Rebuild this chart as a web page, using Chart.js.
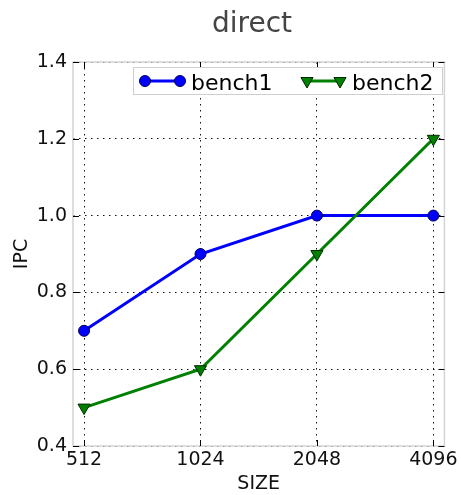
<!DOCTYPE html>
<html>
<head>
<meta charset="utf-8">
<title>direct</title>
<script src="https://cdn.jsdelivr.net/npm/chart.js@4"></script>
<style>
  html, body { margin: 0; padding: 0; background: #fff; }
  #wrap { width: 461px; height: 495px; position: relative; }
</style>
</head>
<body>
<div id="wrap"><canvas id="chart"></canvas></div>
<script>
// direct — IPC vs SIZE for two benchmarks.

const chartTitle = 'direct';
const sizes = ['512', '1024', '2048', '4096'];
const bench1 = [0.7, 0.9, 1.0, 1.0];
const bench2 = [0.5, 0.6, 0.9, 1.2];
const yTicks = [0.4, 0.6, 0.8, 1.0, 1.2, 1.4];

const FONT = "'DejaVu Sans', sans-serif";
const toPts = arr => arr.map((y, i) => ({ x: i, y }));

// ─── Marker drawing (shared by legend) ──────────────────────────────────

function marker(ctx, ds, x, y) {
  ctx.save();
  ctx.fillStyle = ds.pointBackgroundColor;
  ctx.strokeStyle = ds.pointBorderColor;
  ctx.lineWidth = ds.pointBorderWidth;
  ctx.beginPath();
  if (ds.pointStyle === 'circle') {
    ctx.arc(x, y, ds.pointRadius, 0, Math.PI * 2);
  } else {
    const r = ds.pointRadius;
    const s = Math.sin(Math.PI / 3) * r, c = Math.cos(Math.PI / 3) * r;
    ctx.moveTo(x, y + r);
    ctx.lineTo(x - s, y - c);
    ctx.lineTo(x + s, y - c);
    ctx.closePath();
  }
  ctx.fill();
  ctx.stroke();
  ctx.restore();
}

// ─── Frame, inward ticks, title, legend ─────────────────────────────────

const framePlugin = {
  id: 'frame',
  beforeDatasetsDraw(chart) {
    const { ctx, chartArea: a, scales } = chart;
    ctx.save();
    ctx.strokeStyle = '#d4d4d4';
    ctx.lineWidth = 1.5;
    ctx.strokeRect(a.left, a.top, a.right - a.left, a.bottom - a.top);
    ctx.strokeStyle = '#000';
    ctx.lineWidth = 1;
    ctx.beginPath();
    yTicks.forEach(v => {
      const py = Math.round(scales.y.getPixelForValue(v)) + 0.5;
      ctx.moveTo(a.left, py); ctx.lineTo(a.left + 6, py);
      ctx.moveTo(a.right, py); ctx.lineTo(a.right - 6, py);
    });
    sizes.forEach((_, i) => {
      const px = Math.round(scales.x.getPixelForValue(i)) + 0.5;
      ctx.moveTo(px, a.bottom); ctx.lineTo(px, a.bottom - 6);
      ctx.moveTo(px, a.top); ctx.lineTo(px, a.top + 6);
    });
    ctx.stroke();
    ctx.restore();
  },
  afterDraw(chart) {
    const { ctx } = chart;
    const dss = chart.data.datasets;
    ctx.save();
    // title (matplotlib puts it slightly left of the axes centre here)
    ctx.fillStyle = '#444';
    ctx.font = `28px ${FONT}`;
    ctx.textAlign = 'center';
    ctx.textBaseline = 'alphabetic';
    ctx.fillText(chartTitle, 252, 32);
    // legend box, top right inside the axes
    ctx.fillStyle = '#fff';
    ctx.strokeStyle = '#cfcfcf';
    ctx.lineWidth = 1;
    ctx.fillRect(133.5, 67.5, 309, 27);
    ctx.strokeRect(133.5, 67.5, 309, 27);
    const items = [{ x0: 145, x1: 180, tx: 191 }, { x0: 307, x1: 340, tx: 352 }];
    const ly = 81;
    items.forEach((it, i) => {
      const ds = dss[i];
      ctx.strokeStyle = ds.borderColor;
      ctx.lineWidth = ds.borderWidth;
      ctx.beginPath();
      ctx.moveTo(it.x0, ly); ctx.lineTo(it.x1, ly);
      ctx.stroke();
      marker(ctx, ds, it.x0, ly);
      marker(ctx, ds, it.x1, ly);
      ctx.fillStyle = '#000';
      ctx.font = `22px ${FONT}`;
      ctx.textAlign = 'left';
      ctx.fillText(ds.label, it.tx, 90);
    });
    ctx.restore();
  },
};

// ─── Chart ──────────────────────────────────────────────────────────────

Chart.defaults.font.family = FONT;
Chart.defaults.color = '#000';

new Chart(document.getElementById('chart'), {
  type: 'line',
  data: {
    datasets: [
      {
        label: 'bench1', data: toPts(bench1), order: 1,
        borderColor: '#0000ff', borderWidth: 3,
        pointStyle: 'circle', pointRadius: 5.5, pointBorderWidth: 1,
        pointBackgroundColor: '#0000ff', pointBorderColor: '#00005a',
      },
      {
        label: 'bench2', data: toPts(bench2), order: 0,
        borderColor: '#008000', borderWidth: 3,
        pointStyle: 'triangle', pointRotation: 180, pointRadius: 7, pointBorderWidth: 1,
        pointBackgroundColor: '#008000', pointBorderColor: '#002a00',
      },
    ],
  },
  options: {
    responsive: true,
    maintainAspectRatio: false,
    animation: false,
    clip: false,
    layout: { padding: { left: 0, right: 16, top: 62, bottom: 0 } },
    plugins: {
      legend: { display: false },
      tooltip: { enabled: false },
      title: { display: false },
    },
    scales: {
      x: {
        type: 'linear', min: -0.095, max: 3.095,
        afterBuildTicks: s => { s.ticks = sizes.map((_, i) => ({ value: i })); },
        afterFit: s => { s.height = 49; },
        ticks: { callback: v => sizes[v], font: { size: 19 }, padding: 3, color: '#111', maxRotation: 0 },
        grid: { color: '#111', lineWidth: 1, drawTicks: false },
        border: { display: false, dash: [1.5, 4.5] },
        title: { display: true, text: 'SIZE', font: { size: 19 }, color: '#111', padding: { top: 0, bottom: 0 } },
      },
      y: {
        min: 0.4, max: 1.4,
        afterBuildTicks: s => { s.ticks = yTicks.map(v => ({ value: v })); },
        afterFit: s => { s.width = 73; },
        ticks: { callback: v => v.toFixed(1), font: { size: 19 }, padding: 6, color: '#111' },
        grid: { color: '#111', lineWidth: 1, drawTicks: false },
        border: { display: false, dash: [1.5, 4.5] },
        title: { display: true, text: 'IPC', font: { size: 19 }, color: '#111', padding: { top: 11, bottom: 0 } },
      },
    },
  },
  plugins: [framePlugin],
});
</script>
</body>
</html>
